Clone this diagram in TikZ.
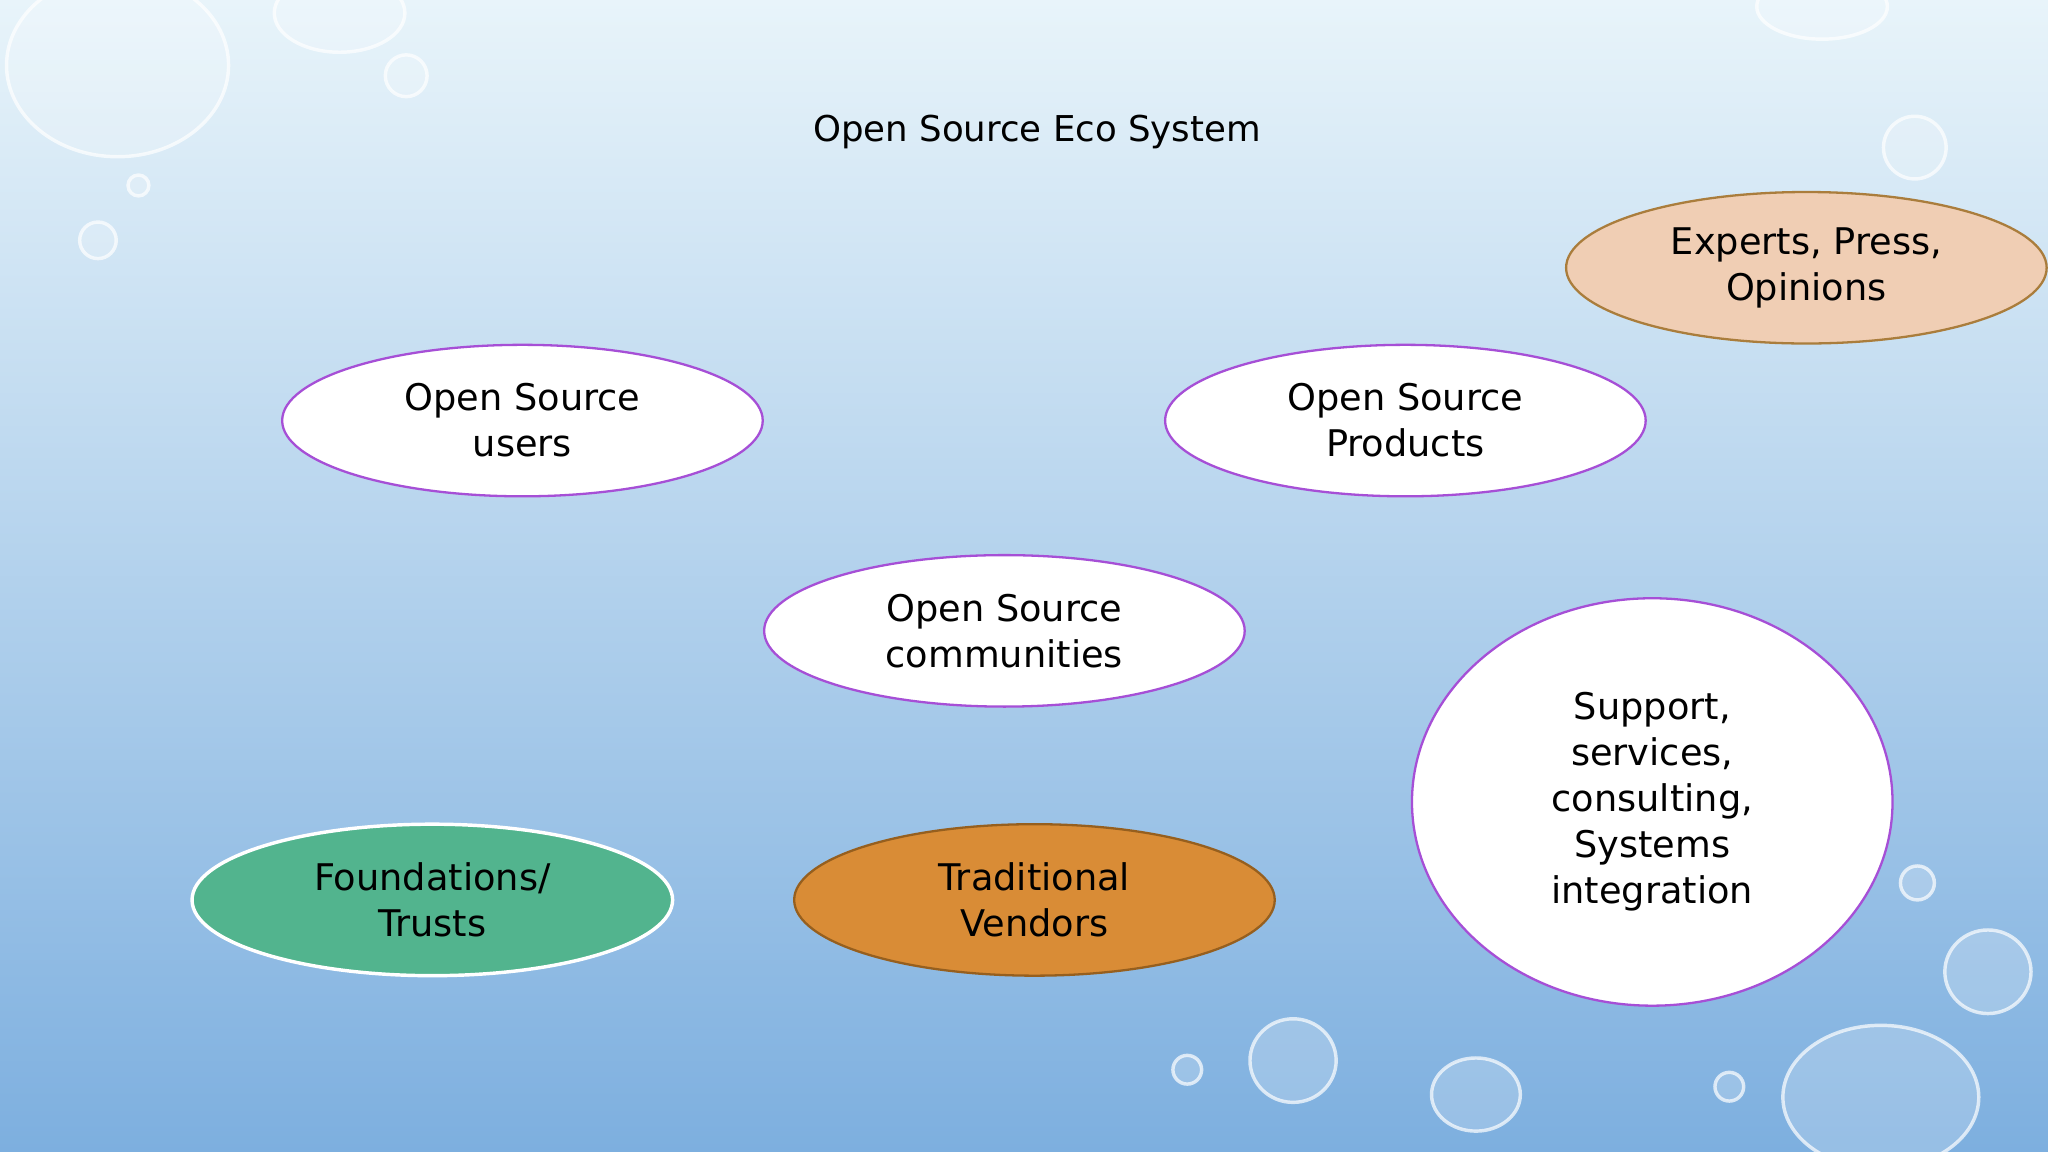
\documentclass[tikz,border=0pt]{standalone}
\usepackage{fontspec}
\setmainfont{DejaVu Sans}
\usetikzlibrary{shapes.geometric}
\definecolor{bgtop}{HTML}{E8F4FA}
\definecolor{bgbot}{HTML}{7DAFDF}
\definecolor{purp}{HTML}{A64FD6}
\begin{document}
\begin{tikzpicture}[x=0.02cm,y=-0.02cm,
  ell/.style={ellipse,draw=purp,line width=1pt,fill=white,
    align=center,font=\fontsize{16}{20}\selectfont,inner sep=0pt},
  drop/.style={fill=white,fill opacity=0.2,draw=white,draw opacity=0.7,line width=1.5pt}]
\useasboundingbox (0,0) rectangle (1568,882);
\shade[top color=bgtop,bottom color=bgbot] (0,0) rectangle (1568,882);
% droplets
\draw[drop] (90,50) ellipse (85 and 70);
\draw[drop] (260,10) ellipse (50 and 30);
\draw[drop] (311,58) circle (16);
\draw[drop] (106,142) circle (8);
\draw[drop] (75,184) circle (14);
\draw[drop] (1395,5) ellipse (50 and 25);
\draw[drop] (1466,113) circle (24);
\draw[drop] (1468,676) circle (13);
\draw[drop] (1522,744) ellipse (33 and 32);
\draw[drop] (1440,840) ellipse (75 and 55);
\draw[drop] (1324,832) circle (11);
\draw[drop] (1130,838) ellipse (34 and 28);
\draw[drop] (990,812) ellipse (33 and 32);
\draw[drop] (909,819) circle (11);
\node[font=\fontsize{15.5}{19}\selectfont] (title) at (794,101) {Open Source Eco System};
\node[ell,minimum width=7.36cm,minimum height=2.32cm] (users) at (400,322) {Open Source\\users};
\node[ell,minimum width=7.36cm,minimum height=2.32cm] (products) at (1076,322) {Open Source\\Products};
\node[ell,minimum width=7.36cm,minimum height=2.32cm,fill={rgb,255:red,240;green,206;blue,180},draw={rgb,255:red,170;green,125;blue,60}] (experts) at (1383,205) {Experts, Press,\\Opinions};
\node[ell,minimum width=7.36cm,minimum height=2.32cm] (communities) at (769,483) {Open Source\\communities};
\node[ell,minimum width=7.36cm,minimum height=2.32cm,fill={rgb,255:red,82;green,180;blue,142},draw=white,line width=1.5pt] (foundations) at (331,689) {Foundations/\\Trusts};
\node[ell,minimum width=7.36cm,minimum height=2.32cm,fill={rgb,255:red,217;green,140;blue,54},draw={rgb,255:red,150;green,95;blue,30}] (vendors) at (792,689) {Traditional\\Vendors};
\node[ell,minimum width=7.36cm,minimum height=6.24cm] (support) at (1265,614) {Support,\\services,\\consulting,\\Systems\\integration};
\end{tikzpicture}
\end{document}
